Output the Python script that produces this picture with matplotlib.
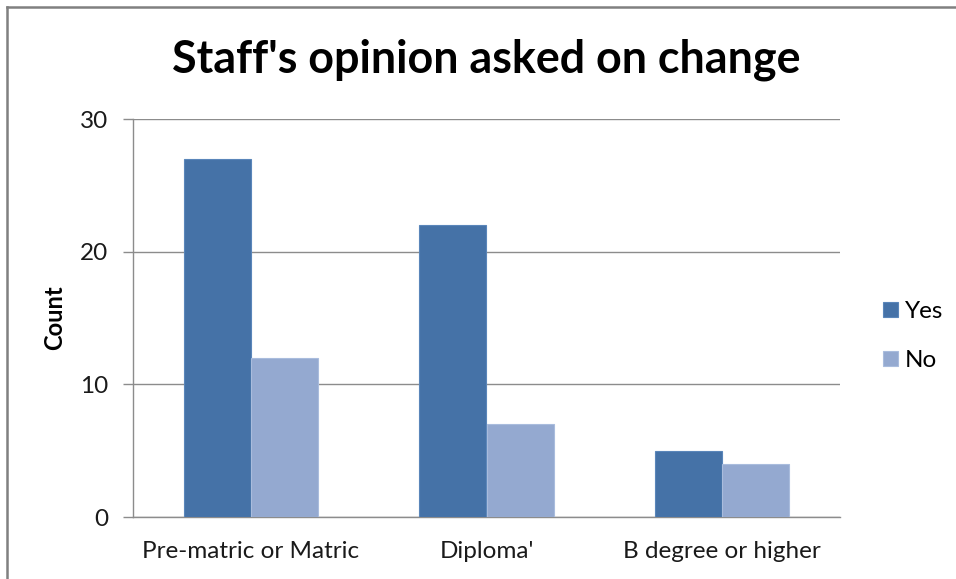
import matplotlib.pyplot as plt
import numpy as np

# Chart data
categories = ["Pre-matric or Matric", "Diploma'", "B degree or higher"]
yes_counts = [27, 22, 5]
no_counts = [12, 7, 4]

plt.rcParams['font.family'] = ['Lato', 'DejaVu Sans']

fig = plt.figure(figsize=(9.56, 5.79), dpi=100)
ax = fig.add_axes([133 / 956, 1 - 517 / 579, (840 - 133) / 956, (517 - 119) / 579])

x = np.arange(len(categories))
width = 1 / 3.5
ax.bar(x - width / 2, yes_counts, width, color='#4572A7', edgecolor='#5A86BA',
       linewidth=0.8, label='Yes', zorder=3)
ax.bar(x + width / 2, no_counts, width, color='#94A9D0', edgecolor='#A9BCDD',
       linewidth=0.8, label='No', zorder=3)

ax.set_xlim(-0.5, 2.5)
ax.set_ylim(0, 30)
ax.set_yticks([0, 10, 20, 30])
ax.set_xticks(x)
ax.set_xticklabels(categories, fontsize=17.5, color='#1a1a1a')
ax.tick_params(axis='x', length=0, pad=17)
ax.tick_params(axis='y', length=7, width=1, color='#8c8c8c', labelsize=17.5,
               labelcolor='#1a1a1a', pad=11)

ax.grid(axis='y', color='#8c8c8c', linewidth=1, zorder=0)
for side in ['top', 'right']:
    ax.spines[side].set_visible(False)
for side in ['left', 'bottom']:
    ax.spines[side].set_color('#8c8c8c')
    ax.spines[side].set_linewidth(1)

ax.set_ylabel('Count', fontsize=17, fontweight='bold', labelpad=10)

fig.text(486 / 956, 1 - 60 / 579, "Staff's opinion asked on change",
         fontsize=32.3, fontweight='bold', ha='center', va='center')

ax.legend(loc='center left', bbox_to_anchor=(1.03, 0.455), frameon=False,
          fontsize=17.5, handlelength=0.6, handleheight=0.6,
          handletextpad=0.3, labelspacing=1.15)

# Outer chart border (top and left visible)
fig.add_artist(plt.Line2D([7 / 956, 1.0], [1 - 7 / 579, 1 - 7 / 579],
                          transform=fig.transFigure, color='#808080', linewidth=1.8))
fig.add_artist(plt.Line2D([7 / 956, 7 / 956], [0.0, 1 - 7 / 579],
                          transform=fig.transFigure, color='#808080', linewidth=1.8))

fig.savefig('out.png', dpi=100)
